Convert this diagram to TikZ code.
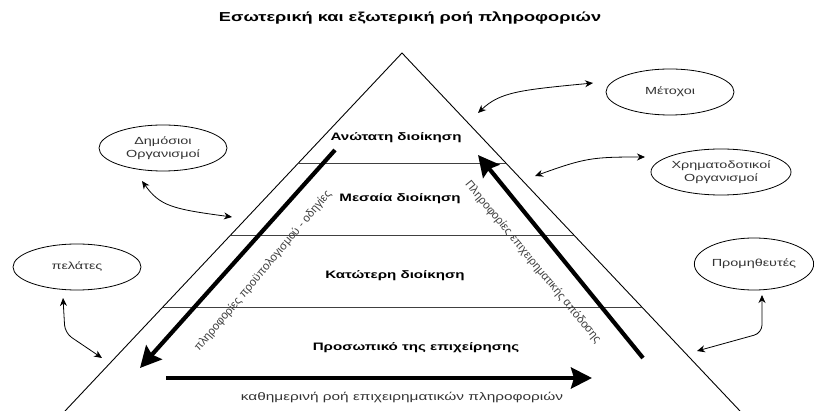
\documentclass[tikz,border=0pt]{standalone}
\usepackage{fontspec}
\setmainfont{Liberation Sans}[FakeStretch=1.4]
\newfontfamily\slantlabel{Liberation Sans}
\usetikzlibrary{arrows.meta,calc,shapes.geometric}
\begin{document}
\begin{tikzpicture}[x=1pt,y=-1pt,
  side/.style={line width=0.9pt},
  level/.style={line width=0.6pt, draw=black!75},
  lvltext/.style={font=\fontsize{10.8}{12}\selectfont\bfseries},
  party/.style={draw, ellipse, line width=0.8pt, minimum width=128pt, minimum height=46pt,
    inner sep=0pt, align=center, font=\fontsize{10.3}{12.5}\selectfont, text=black!80},
  bigarrow/.style={line width=4.2pt, -{Stealth[length=21pt,width=21pt,inset=3pt]}},
  link/.style={line width=0.8pt, {Stealth[length=8pt,width=7pt]}-{Stealth[length=8pt,width=7pt]}},
  flowtext/.style={font=\slantlabel\fontsize{11.5}{13}\selectfont, text=black!75},
  daytext/.style={font=\fontsize{11}{13}\selectfont, text=black!80}
]
\useasboundingbox (0,0) rectangle (814,411);

% title
\node[font=\fontsize{13}{15}\selectfont\bfseries] (title) at (410,18)
  {Εσωτερική και εξωτερική ροή πληροφοριών};

% pyramid and its levels
\coordinate (apex) at (402,53);
\coordinate (bl) at (65,411);
\coordinate (br) at (740,411);
\draw[side] (bl) -- (apex) -- (br);
\foreach \t in {0.3073,0.5084,0.7095}
  \draw[level] ($(apex)!\t!(bl)$) -- ($(apex)!\t!(br)$);

\node[lvltext] (top)   at (396,138) {Ανώτατη διοίκηση};
\node[lvltext] (mid)   at (400,199) {Μεσαία διοίκηση};
\node[lvltext] (low)   at (395,276) {Κατώτερη διοίκηση};
\node[lvltext] (staff) at (416,348) {Προσωπικό της επιχείρησης};

% internal flows
\coordinate (dn-s) at (335,150);  \coordinate (dn-e) at (140,368);
\coordinate (up-s) at (643,358);  \coordinate (up-e) at (478,155);
\coordinate (day-s) at (166,378); \coordinate (day-e) at (592,378);
\draw[bigarrow] (dn-s) -- (dn-e);
\draw[bigarrow] (up-s) -- (up-e);
\draw[bigarrow] (day-s) -- (day-e);

\node[flowtext, rotate=50]    (budget) at (263,271) {πληροφορίες προϋπολογισμού - οδηγίες};
\node[flowtext, rotate=-50.5] (perf)   at (533,262) {Πληροφορίες επιχειρηματικής απόδοσης};
\node[daytext]                (daily)  at (402,397) {καθημερινή ροή επιχειρηματικών πληροφοριών};

% external parties
\node[party] (met) at (670,92)  {Μέτοχοι};
\node[party] (fin) at (721,172) {Χρηματοδοτικοί\\Οργανισμοί};
\node[party] (pub) at (163,148) {Δημόσιοι\\Οργανισμοί};
\node[party] (cli) at (77,267)  {πελάτες};
\node[party, minimum width=118pt, minimum height=52pt] (sup) at (754,264) {Προμηθευτές};

% external flows
\coordinate (met-a) at (478,113); \coordinate (met-b) at (593,83);
\coordinate (fin-a) at (535,176); \coordinate (fin-b) at (645,157);
\coordinate (pub-a) at (142,181); \coordinate (pub-b) at (232,217);
\coordinate (cli-a) at (63,298);  \coordinate (cli-b) at (102,358);
\coordinate (sup-a) at (762,295); \coordinate (sup-b) at (697,351);
\draw[link] (met-a) .. controls (500,92) and (520,90) .. (met-b);
\draw[link] (fin-a) .. controls (585,158) and (592,157) .. (fin-b);
\draw[link] (pub-a) .. controls (160,206) and (172,209) .. (pub-b);
\draw[link, rounded corners=8pt] (cli-a) -- (65,333) -- (cli-b);
\draw[link, rounded corners=8pt] (sup-a) -- (762,333) -- (sup-b);
\end{tikzpicture}
\end{document}
